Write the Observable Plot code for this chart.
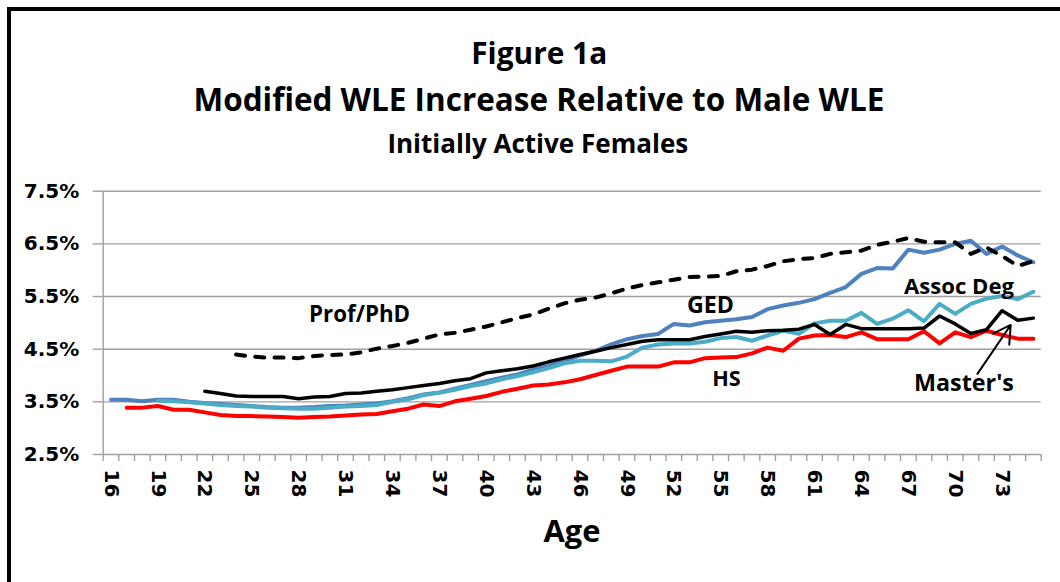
<!DOCTYPE html>
<html><head><meta charset="utf-8">
<script src="https://cdn.jsdelivr.net/npm/d3@7"></script>
<script src="https://cdn.jsdelivr.net/npm/@observablehq/plot@0.6"></script>
<style>
html,body{margin:0;padding:0;background:#fff;}
#wrap{position:relative;width:1060px;height:582px;overflow:hidden;background:#fff;}
#frame{position:absolute;left:7px;top:7px;width:1100px;height:620px;border-left:4px solid #000;border-top:4px solid #000;}
#chart{position:absolute;left:0;top:0;}
</style></head><body>
<div id="wrap"><div id="frame"></div><div id="chart"></div></div>
<script>
// ---- data (ages 16..75) ----
const ages = d3.range(16, 76);
const ged = [3.54,3.54,3.51,3.54,3.54,3.50,3.48,3.46,3.44,3.42,
 3.40,3.39,3.39,3.40,3.42,3.43,3.45,3.47,3.51,3.57,
 3.64,3.68,3.75,3.82,3.89,3.96,4.02,4.11,4.18,4.27,
 4.38,4.47,4.59,4.69,4.75,4.79,4.98,4.95,5.01,5.04,
 5.07,5.11,5.26,5.33,5.38,5.45,5.57,5.68,5.93,6.04,
 6.03,6.39,6.33,6.39,6.50,6.56,6.31,6.45,6.28,6.15];
const assocDeg = [null,null,null,3.52,3.51,3.49,3.47,3.44,3.42,3.41,
 3.39,3.38,3.37,3.37,3.39,3.41,3.42,3.44,3.50,3.55,
 3.63,3.67,3.73,3.80,3.85,3.93,3.99,4.06,4.14,4.23,
 4.28,4.28,4.27,4.36,4.53,4.59,4.61,4.61,4.64,4.71,
 4.73,4.66,4.76,4.85,4.79,4.99,5.04,5.04,5.19,4.98,
 5.08,5.24,5.03,5.36,5.17,5.36,5.46,5.51,5.45,5.59];
const hs = [null,3.39,3.39,3.42,3.35,3.35,3.30,3.25,3.23,3.23,
 3.22,3.21,3.20,3.21,3.22,3.24,3.26,3.27,3.32,3.37,
 3.45,3.42,3.51,3.56,3.61,3.69,3.75,3.81,3.83,3.87,
 3.93,4.01,4.09,4.17,4.17,4.17,4.25,4.25,4.33,4.34,
 4.35,4.42,4.53,4.47,4.70,4.76,4.77,4.73,4.82,4.69,
 4.69,4.69,4.84,4.61,4.82,4.73,4.85,4.77,4.70,4.70];
const masters = [null,null,null,null,null,null,3.70,3.66,3.61,3.60,
 3.60,3.60,3.56,3.59,3.60,3.66,3.67,3.70,3.73,3.77,
 3.81,3.85,3.90,3.94,4.05,4.09,4.13,4.18,4.26,4.33,
 4.40,4.46,4.53,4.59,4.65,4.68,4.68,4.68,4.74,4.79,
 4.84,4.82,4.85,4.86,4.88,4.97,4.78,4.97,4.89,4.89,
 4.89,4.89,4.90,5.13,4.98,4.80,4.87,5.23,5.05,5.09];
const profPhd = [null,null,null,null,null,null,null,null,4.40,4.36,
 4.34,4.34,4.33,4.37,4.39,4.40,4.44,4.51,4.56,4.62,
 4.70,4.78,4.81,4.87,4.93,5.01,5.09,5.16,5.27,5.37,
 5.44,5.48,5.56,5.65,5.72,5.77,5.82,5.87,5.88,5.89,
 5.98,6.01,6.08,6.17,6.21,6.23,6.31,6.34,6.37,6.48,
 6.54,6.61,6.54,6.53,6.53,6.31,6.43,6.27,6.08,6.17];

const yTicks = [2.5, 3.5, 4.5, 5.5, 6.5, 7.5];
const xTickLabels = [16,19,22,25,28,31,34,37,40,43,46,49,52,55,58,61,64,67,70,73];

const labelNames  = ["Prof/PhD", "GED", "Assoc Deg", "HS", "Master's"];
const labelAges   = [31.9, 54.35, 70.24, 55.37, 70.56];
const labelValues = [5.01, 5.18, 5.55, 3.81, 3.715];
const labelWidths = [101, 47, 110, 28.5, 100];

const arrowFrom = {age: 71.42, value: 4.03};
const arrowTo   = {age: 73.55, value: 4.96};

const titles = ["Figure 1a", "Modified WLE Increase Relative to Male WLE", "Initially Active Females"];
const titleWidths = [136, 691, 301];
const titleBaselines = [63.3, 110, 152.7];
const titleCenters = [538.7, 538.4, 537.3];
const xLabel = "Age";

// ---- helpers ----
const ctx = document.createElement("canvas").getContext("2d");
function fitSize(text, family, target) {
  ctx.font = `bold 100px ${family}`;
  return 100 * target / ctx.measureText(text).width;
}
const TF = '"Open Sans"';

function rows(values) {
  return ages.map((a, i) => ({age: a, value: values[i]})).filter(d => d.value != null);
}

const W = 1060, H = 582;
const mL = 102.7, mR = 19.3, mT = 190.7, mB = 128;
const frameCX = (mL + (W - mR)) / 2;
const edges = d3.range(15.5, 76, 1);
const gridColor = "#a0a0a0";

const titleMarks = titles.map((t, i) => Plot.text([t], {
  text: d => d, frameAnchor: "top", lineAnchor: "bottom",
  dx: titleCenters[i] - frameCX, dy: titleBaselines[i] - mT,
  fontSize: fitSize(t, TF, titleWidths[i]), fontWeight: "bold", fontFamily: "Open Sans", fill: "black"
}));

const labelRows = labelNames.map((n, i) => ({name: n, age: labelAges[i], value: labelValues[i], size: fitSize(n, TF, labelWidths[i])}));

const chart = Plot.plot({
  width: W, height: H,
  marginLeft: mL, marginRight: mR, marginTop: mT, marginBottom: mB,
  style: {background: "transparent", fontFamily: "Open Sans", overflow: "visible"},
  x: {type: "linear", domain: [15.5, 75.5]},
  y: {type: "linear", domain: [2.5, 7.5]},
  marks: [
    Plot.ruleY(yTicks, {stroke: gridColor, strokeWidth: 1.4}),
    Plot.ruleX([15.5], {stroke: gridColor, strokeWidth: 1.4}),
    Plot.axisY(yTicks, {tickSize: 10, tickPadding: 14, stroke: gridColor, strokeWidth: 1.4, fill: "black",
      tickFormat: d => d.toFixed(1) + "%", fontSize: 20, fontWeight: "bold", fontFamily: "DejaVu Sans", label: null}),
    Plot.axisX(edges, {tickSize: 7, stroke: gridColor, strokeWidth: 1.4, tickFormat: () => "", label: null}),
    Plot.axisX(xTickLabels, {tickSize: 0, tickPadding: 15, tickRotate: 90, fill: "black",
      fontSize: 20, fontWeight: "bold", fontFamily: "DejaVu Sans", label: null}),
    Plot.line(rows(ged), {x: "age", y: "value", stroke: "#4F81BD", strokeWidth: 4}),
    Plot.line(rows(assocDeg), {x: "age", y: "value", stroke: "#4BACC6", strokeWidth: 4}),
    Plot.line(rows(hs), {x: "age", y: "value", stroke: "#FF0000", strokeWidth: 4}),
    Plot.line(rows(masters), {x: "age", y: "value", stroke: "#000000", strokeWidth: 3.5}),
    Plot.line(rows(profPhd), {x: "age", y: "value", stroke: "#000000", strokeWidth: 4, strokeDasharray: "9,10.3", strokeLinecap: "round"}),
    Plot.text(labelRows, {x: "age", y: "value", text: "name", fontSize: d => d.size, lineAnchor: "bottom",
      fontWeight: "bold", fontFamily: "Open Sans", fill: "black"}),
    Plot.arrow([{}], {x1: () => arrowFrom.age, y1: () => arrowFrom.value, x2: () => arrowTo.age, y2: () => arrowTo.value,
      stroke: "black", strokeWidth: 2, headLength: 15, headAngle: 60}),
    ...titleMarks,
    Plot.text([xLabel], {text: d => d, frameAnchor: "bottom", lineAnchor: "bottom", dy: 87, dx: 571.5 - frameCX,
      fontSize: fitSize(xLabel, TF, 57), fontWeight: "bold", fontFamily: "Open Sans", fill: "black"})
  ]
});
document.getElementById("chart").appendChild(chart);
</script>
</body></html>
